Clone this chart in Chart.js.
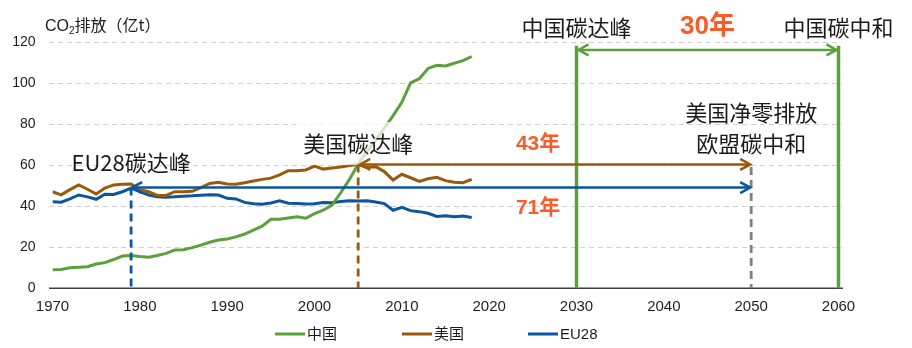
<!DOCTYPE html>
<html><head><meta charset="utf-8">
<script src="https://cdn.jsdelivr.net/npm/chart.js@4/dist/chart.umd.min.js"></script>
<style>html,body{margin:0;padding:0;background:#fff;}#wrap{width:912px;height:348px;position:relative;}</style>
</head><body><div id="wrap"><canvas id="c" width="912" height="348"></canvas></div>
<script>
const years = [1970,1971,1972,1973,1974,1975,1976,1977,1978,1979,1980,1981,1982,1983,1984,1985,1986,1987,1988,1989,1990,1991,1992,1993,1994,1995,1996,1997,1998,1999,2000,2001,2002,2003,2004,2005,2006,2007,2008,2009,2010,2011,2012,2013,2014,2015,2016,2017,2018];
const china = [9,9.2,10,10.2,10.5,11.8,12.5,14,15.7,16,15.5,15.1,16,17,18.6,18.8,19.8,21,22.4,23.5,24,25,26.4,28.3,30.2,33.6,33.6,34.2,34.8,34.1,36.3,38,40.5,46.5,53,60.5,66.5,72,78,84,90.5,100,102,107,108.5,108.2,109.5,110.8,112.8];
const usa = [47,45.5,48,50.3,48.2,45.9,48.8,50.3,50.6,50.8,48,47,45.2,45.2,47,47,47.2,49,51,51.6,50.8,50.6,51.4,52.2,53,53.6,55.2,57.2,57.2,57.6,59.5,58,58.5,59,59.8,60.2,58.8,59.2,56.8,52.7,55.5,53.8,52,53.3,54,52.4,51.6,51.4,53];
const eu28 = [42.1,41.9,43.5,45.4,44.5,43.3,45.8,45.7,47,48.8,47,45.4,44.5,44.3,44.5,44.8,45,45.3,45.5,45.4,43.8,43.5,41.8,41.2,40.9,41.5,42.6,41.4,41.3,41,41.2,41.8,41.6,42.2,42.6,42.5,42.6,42,41.2,38,39.4,37.8,37.3,36.5,35,35.3,34.8,35.2,34.5];
const seriesNames = ['中国','美国','EU28'];
const xTicks = [1970,1980,1990,2000,2010,2020,2030,2040,2050,2060];
const yTicks = [0,20,40,60,80,100,120];
const euPeakYear = 1979, usPeakYear = 2005, cnPeakYear = 2030, euNeutralYear = 2050, cnNeutralYear = 2060;
const cnGap = '30年', usGap = '43年', euGap = '71年';

const GREEN='#5aa03c', BROWN='#9a5a0c', BLUE='#0c559f', ORANGE='#fb5a2a', GRAY='#808080';
const CJK = '"Noto Sans CJK SC", "Liberation Sans", sans-serif';
const LAT = '"Liberation Sans", "Noto Sans CJK SC", sans-serif';

const toXY = arr => arr.map((v,i)=>({x:years[i], y:v}));

const gridPlugin = {
  id:'gridPlugin',
  beforeDatasetsDraw(chart){
    const {ctx, scales:{y}} = chart;
    ctx.save();
    ctx.strokeStyle='#d0d0d0'; ctx.lineWidth=1.2; ctx.setLineDash([5,4]);
    yTicks.forEach(v=>{
      if (v===0) return;
      const yy = Math.round(y.getPixelForValue(v))+0.5;
      ctx.beginPath(); ctx.moveTo(49, yy); ctx.lineTo(842, yy); ctx.stroke();
    });
    ctx.setLineDash([]);
    ctx.strokeStyle='#404040'; ctx.lineWidth=1.5;
    const y0 = y.getPixelForValue(0);
    ctx.beginPath(); ctx.moveTo(49, y0); ctx.lineTo(843, y0); ctx.stroke();
    ctx.restore();
  }
};

const annot = {
  id:'annot',
  afterDatasetsDraw(chart){
    const {ctx, scales:{x,y}} = chart;
    const X = v=>x.getPixelForValue(v), Y = v=>y.getPixelForValue(v);
    ctx.save();
    ctx.fillStyle='rgba(255,255,255,0.72)';
    ctx.fillRect(X(usPeakYear)-62, Y(70.2)-22, 124, 43);

    function vline(xv, top, color, w, dash){
      ctx.strokeStyle=color; ctx.lineWidth=w; ctx.setLineDash(dash||[]); ctx.lineCap='butt';
      ctx.beginPath(); ctx.moveTo(X(xv), Y(top)); ctx.lineTo(X(xv), Y(0)); ctx.stroke();
      ctx.setLineDash([]);
    }
    function head(xt, yy, dir){
      ctx.beginPath(); ctx.moveTo(xt+dir*10, yy-5.5); ctx.lineTo(xt, yy); ctx.lineTo(xt+dir*10, yy+5.5); ctx.stroke();
    }
    function arrow(x1, x2, yv, color, w){
      const yy = Y(yv);
      ctx.strokeStyle=color; ctx.lineWidth=w; ctx.setLineDash([]); ctx.lineJoin='miter';
      ctx.beginPath(); ctx.moveTo(x1, yy); ctx.lineTo(x2, yy); ctx.stroke();
      head(x1, yy, 1); head(x2, yy, -1);
    }
    vline(euPeakYear, 49, BLUE, 2.8, [8,5]);
    vline(usPeakYear, 60.3, BROWN, 2.8, [8,5]);
    vline(euNeutralYear, 59, GRAY, 2.8, [8,5]);
    vline(cnPeakYear, 118, GREEN, 3.5);
    vline(cnNeutralYear, 118, GREEN, 3.5);

    arrow(X(cnPeakYear)+2, X(cnNeutralYear)-2, 116, GREEN, 2.5);
    arrow(X(usPeakYear)+2, X(euNeutralYear)-1, 60.3, BROWN, 2.5);
    arrow(X(euPeakYear)+1, X(euNeutralYear)-1, 49, BLUE, 2.5);

    function text(t, xv, yv, font, color){
      ctx.font = font; ctx.fillStyle = color; ctx.textAlign='center'; ctx.textBaseline='middle';
      ctx.fillText(t, X(xv), Y(yv));
    }
    const lbl = '22px ' + CJK;
    text('EU28碳达峰', euPeakYear, 61, lbl, '#1a1a1a');
    text('美国碳达峰', usPeakYear, 70.2, lbl, '#1a1a1a');
    text('中国碳达峰', cnPeakYear, 126.7, lbl, '#1a1a1a');
    text('中国碳中和', cnNeutralYear, 126.7, lbl, '#1a1a1a');
    text('美国净零排放', euNeutralYear, 85.3, lbl, '#1a1a1a');
    text('欧盟碳中和', euNeutralYear, 70.2, lbl, '#1a1a1a');
    text(cnGap, 2045, 127.2, 'bold 26px ' + LAT, ORANGE);
    text(usGap, 2025.6, 70.2, 'bold 21px ' + LAT, ORANGE);
    text(euGap, 2025.6, 39, 'bold 21px ' + LAT, ORANGE);

    ctx.textAlign='left'; ctx.textBaseline='alphabetic'; ctx.fillStyle='#1a1a1a';
    let cx = 45;
    ctx.font = '16px ' + LAT; ctx.fillText('CO', cx, 31); cx += ctx.measureText('CO').width;
    ctx.font = '10px ' + LAT; ctx.fillText('2', cx, 34); cx += ctx.measureText('2').width;
    ctx.font = '16px ' + CJK; ctx.fillText('排放（亿t）', cx, 31);

    const legendX = [275, 402, 528];
    const colors = [GREEN, BROWN, BLUE];
    chart.data.datasets.forEach((ds, i)=>{
      const lx = legendX[i], ly = 334;
      ctx.strokeStyle = colors[i]; ctx.lineWidth = 3; ctx.beginPath(); ctx.moveTo(lx, ly); ctx.lineTo(lx+30, ly); ctx.stroke();
      ctx.font = '15px ' + LAT; ctx.fillStyle='#1a1a1a'; ctx.textAlign='left'; ctx.textBaseline='middle';
      ctx.fillText(ds.label, lx+32, ly+1);
    });
    ctx.restore();
  }
};

new Chart(document.getElementById('c'), {
  type:'line',
  data:{ datasets:[
    {label:seriesNames[0], data:toXY(china), borderColor:GREEN, backgroundColor:GREEN, borderWidth:3, pointRadius:0, tension:0},
    {label:seriesNames[1], data:toXY(usa), borderColor:BROWN, backgroundColor:BROWN, borderWidth:3, pointRadius:0, tension:0},
    {label:seriesNames[2], data:toXY(eu28), borderColor:BLUE, backgroundColor:BLUE, borderWidth:3, pointRadius:0, tension:0}
  ]},
  options:{
    responsive:false, animation:false, devicePixelRatio:1,
    layout:{padding:{left:0, right:73.5, top:41.7, bottom:0}},
    plugins:{legend:{display:false}, tooltip:{enabled:false}},
    scales:{
      x:{type:'linear', min:1970, max:2060,
        afterBuildTicks: s => { s.ticks = xTicks.map(v=>({value:v})); },
        afterFit: s => { s.height = 59.7; },
        ticks:{font:{family:'"Liberation Sans", Arial, sans-serif', size:15}, color:'#1e1e1e', padding:10, maxRotation:0, autoSkip:false, callback:v=>String(v)},
        grid:{display:false, drawTicks:false},
        border:{display:false}
      },
      y:{min:0, max:120,
        afterBuildTicks: s => { s.ticks = yTicks.map(v=>({value:v})); },
        afterFit: s => { s.width = 52.5; },
        ticks:{font:{family:'"Liberation Sans", Arial, sans-serif', size:14}, color:'#1e1e1e', padding:17},
        grid:{display:false, drawTicks:false},
        border:{display:false}
      }
    }
  },
  plugins:[gridPlugin, annot]
});
</script></body></html>
